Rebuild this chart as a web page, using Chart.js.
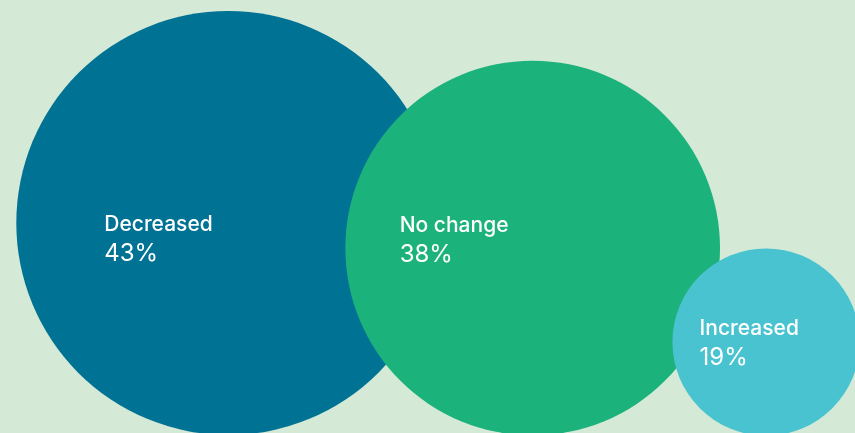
<!DOCTYPE html>
<html>
<head>
<meta charset="utf-8">
<script src="https://cdn.jsdelivr.net/npm/chart.js@4"></script>
<style>
    html, body { margin: 0; padding: 0; background: #d4e9d6; }
    #wrap { width: 855px; height: 433px; position: relative; }
</style>
</head>
<body>
<div id="wrap"><canvas id="chart-share"></canvas></div>
<script>
// Share of respondents per answer
const categories = ['Decreased', 'No change', 'Increased'];
const shares = [43, 38, 19];
// Bubble centres on a 0-100 grid
const centerX = [26.7, 62.3, 89.6];
const centerY = [51.5, 57.3, 79.0];

const colors = ['#007294', '#1bb27b', '#4ac3d1'];
const pxPerPoint = 4.93; // radius grows linearly with the share
const labelShift = [0.585, 0.71, 0.71]; // label left edge, as a fraction of radius
const labelRise = [-0.04, 0.086, 0.074]; // first baseline above centre, fraction of radius

const points = shares.map((v, i) => ({ x: centerX[i], y: centerY[i], r: v * pxPerPoint }));

// Writes the category and its percentage inside each bubble
const bubbleLabels = {
    id: 'bubbleLabels',
    afterDatasetsDraw(chart) {
        const ctx = chart.ctx;
        const meta = chart.getDatasetMeta(0);
        ctx.save();
        ctx.fillStyle = '#ffffff';
        ctx.textBaseline = 'alphabetic';
        ctx.textAlign = 'left';
        meta.data.forEach((el, i) => {
            const r = el.options.radius;
            const left = el.x - r * labelShift[i];
            const base = el.y - r * labelRise[i];
            ctx.font = '500 21px Inter, "Liberation Sans", sans-serif';
            ctx.fillText(categories[i], left, base);
            ctx.font = '400 24px Inter, "Liberation Sans", sans-serif';
            ctx.fillText(shares[i] + '%', left, base + 30);
        });
        ctx.restore();
    }
};

new Chart(document.getElementById('chart-share'), {
    type: 'bubble',
    data: {
        labels: categories,
        datasets: [{
            data: points,
            backgroundColor: colors,
            borderWidth: 0,
            hoverBorderWidth: 0
        }]
    },
    options: {
        responsive: true,
        maintainAspectRatio: false,
        animation: false,
        layout: { padding: 0, autoPadding: false },
        clip: false,
        scales: {
            x: { display: false, min: 0, max: 100 },
            y: { display: false, min: 0, max: 100, reverse: true }
        },
        plugins: { legend: { display: false }, tooltip: { enabled: false } }
    },
    plugins: [bubbleLabels]
});
</script>
</body>
</html>
